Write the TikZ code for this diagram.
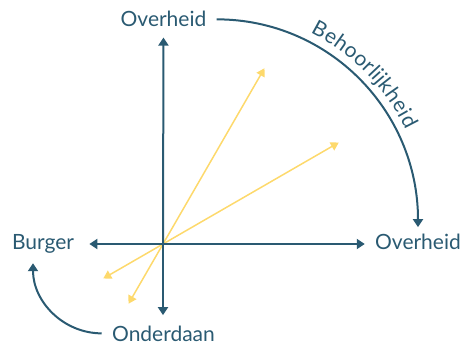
\documentclass[tikz,border=0pt]{standalone}
\usepackage{fontspec}
\setmainfont{Lato}
\usepackage{tikz}
\usetikzlibrary{arrows.meta,calc,decorations.text}
\definecolor{ink}   {HTML}{2A5A72}
\definecolor{ray}   {HTML}{FDD96C}
\newcommand{\lblfont}{\fontsize{10.5pt}{12pt}\selectfont}
\tikzset{
  lbl/.style      ={text=ink, font=\lblfont, inner sep=5pt},
  axisarr/.style  ={-{Triangle[length=4pt,width=5pt]}, line width=1pt, draw=ink},
  rayarr/.style   ={{Triangle[length=4pt,width=4.5pt]}-{Triangle[length=4pt,width=4.5pt]},
                    line width=0.75pt, draw=ray},
}

\begin{document}
\begin{tikzpicture}[x=0.5pt,y=0.5pt]
    \useasboundingbox (0,0) rectangle (464,343);
    \coordinate (o) at (163,99);
    \node[lbl,anchor=base] (top)    at (163.5,316) {Overheid};
    \node[lbl,anchor=base] (right)  at (418,94)    {Overheid};
    \node[lbl,anchor=base] (burger) at (43,94)     {Burger};
    \node[lbl,anchor=base] (onder)  at (163.5,2)   {Onderdaan};
    % gele richtingen
    \coordinate (steilA) at ($(o)+(240:69)$);
    \coordinate (steilB) at ($(o)+(60:203)$);
    \coordinate (vlakA)  at ($(o)+(210:69)$);
    \coordinate (vlakB)  at ($(o)+(30:203)$);
    \draw[rayarr] (steilA) -- (steilB);
    \draw[rayarr] (vlakA) -- (vlakB);
    % assen
    \draw[axisarr] (o) -- (top);
    \draw[axisarr] (o) -- (o -| right.west);
    \draw[axisarr,shorten >=2.5pt] (o) -- (o -| burger.east);
    \draw[axisarr] (o) -- (o |- onder.north);
    % bogen
    \draw[axisarr,shorten >=-2pt,
          postaction={decorate,decoration={text along path,text align=center,raise=4.5pt,
                      text={|\lblfont\color{ink}|Behoorlijkheid}}}]
      (top.east) to[out=0,in=90] (right.north);
    \draw[axisarr] (onder.west) to[out=180,in=-90] ($(burger.south)+(-10,0)$);
\end{tikzpicture}
\end{document}
